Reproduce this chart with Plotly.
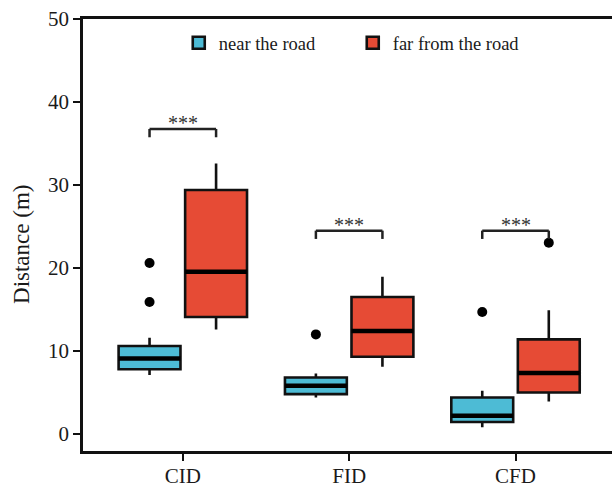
import plotly.graph_objects as go

categories = ["CID", "FID", "CFD"]

near_lower = [7.1, 4.4, 0.8]
near_q1 = [7.8, 4.8, 1.45]
near_median = [9.1, 5.8, 2.2]
near_q3 = [10.6, 6.8, 4.4]
near_upper = [11.6, 7.3, 5.2]
near_outlier_cats = ["CID", "CID", "FID", "CFD"]
near_outlier_vals = [20.6, 15.9, 12.0, 14.7]

far_lower = [12.6, 8.1, 3.9]
far_q1 = [14.1, 9.3, 5.0]
far_median = [19.55, 12.4, 7.35]
far_q3 = [29.4, 16.5, 11.4]
far_upper = [32.6, 18.95, 14.9]
far_outlier_cats = ["CFD"]
far_outlier_vals = [23.05]

sig_y = [36.75, 24.5, 24.5]
sig_labels = ["***", "***", "***"]

y_title = "Distance (m)"

BLUE = "#4DBBD5"
RED = "#E64B35"
FONT = "Liberation Serif"
OFFSET = 0.2
HALF = 0.186
TICK_DROP = 1.0

fig = go.Figure()


def add_box(name, group, color, lo, q1, med, q3, hi, ocats, ovals):
    fig.add_trace(go.Box(
        name=name,
        x=categories,
        lowerfence=lo, q1=q1, median=med, q3=q3, upperfence=hi,
        fillcolor=color,
        line=dict(color="#111111", width=2.6),
        boxpoints=False,
        whiskerwidth=0,
        offsetgroup=group,
        hoverinfo="skip",
    ))
    fig.add_trace(go.Scatter(
        x=ocats, y=ovals, mode="markers",
        marker=dict(color="#000000", size=10, line=dict(width=0)),
        offsetgroup=group, showlegend=False, hoverinfo="skip",
    ))


add_box("near the road", "near", BLUE, near_lower, near_q1, near_median, near_q3, near_upper,
        near_outlier_cats, near_outlier_vals)
add_box("far from the road", "far", RED, far_lower, far_q1, far_median, far_q3, far_upper,
        far_outlier_cats, far_outlier_vals)

shapes = []
# thicker median bars
for meds, sign in ((near_median, -1), (far_median, 1)):
    for c, m in zip(categories, meds):
        shapes.append(dict(type="line", xref="x", yref="y", x0=c, x1=c,
                           x0shift=sign * OFFSET - HALF, x1shift=sign * OFFSET + HALF,
                           y0=m, y1=m, line=dict(color="#000000", width=4.5)))
# significance brackets
annotations = []
for c, ys, lab in zip(categories, sig_y, sig_labels):
    shapes.append(dict(type="line", xref="x", yref="y", x0=c, x1=c,
                       x0shift=-OFFSET, x1shift=OFFSET, y0=ys, y1=ys,
                       line=dict(color="#222222", width=2.5)))
    for s in (-OFFSET, OFFSET):
        shapes.append(dict(type="line", xref="x", yref="y", x0=c, x1=c,
                           x0shift=s, x1shift=s, y0=ys, y1=ys - TICK_DROP,
                           line=dict(color="#222222", width=2.5)))
    annotations.append(dict(x=c, y=ys, xref="x", yref="y", text=lab, showarrow=False,
                            yanchor="bottom", yshift=-7,
                            font=dict(family=FONT, size=20, color="#333333")))

# y-axis title
annotations.append(dict(x=-0.1163, y=0.478, xref="paper", yref="paper", text=y_title,
                        textangle=-90, showarrow=False, xanchor="center", yanchor="middle",
                        font=dict(family=FONT, size=23, color="#1a1a1a")))

fig.update_layout(
    width=612, height=489,
    margin=dict(l=83, r=0, t=19, b=38),
    paper_bgcolor="white", plot_bgcolor="white",
    boxmode="group", boxgap=0.2, boxgroupgap=0.07,
    scattermode="group", scattergap=0.2,
    font=dict(family=FONT, color="#1a1a1a"),
    showlegend=True,
    legend=dict(orientation="h", x=0.181, xanchor="left", y=0.944, yanchor="middle",
                font=dict(family=FONT, size=18.5, color="#1a1a1a"),
                entrywidth=129, entrywidthmode="pixels",
                bgcolor="rgba(0,0,0,0)"),
    shapes=shapes,
    annotations=annotations,
)
fig.update_xaxes(
    categoryorder="array", categoryarray=categories,
    range=[-0.6, 2.58],
    showline=True, linecolor="#111111", linewidth=2.5, mirror=True,
    ticks="outside", ticklen=7, tickwidth=2, tickcolor="#111111",
    ticklabelstandoff=-3,
    tickfont=dict(family=FONT, size=21, color="#1a1a1a"),
    showgrid=False, zeroline=False, automargin=False,
)
fig.update_yaxes(
    range=[-2.05, 50], dtick=10, tick0=0,
    showline=True, linecolor="#111111", linewidth=2.5, mirror=False,
    ticks="outside", ticklen=7, tickwidth=2, tickcolor="#111111",
    tickfont=dict(family=FONT, size=21, color="#1a1a1a"),
    showgrid=False, zeroline=False, automargin=False,
)

fig.write_html("out.html", config={"displayModeBar": False},
               post_script="document.body.style.margin='0';")
